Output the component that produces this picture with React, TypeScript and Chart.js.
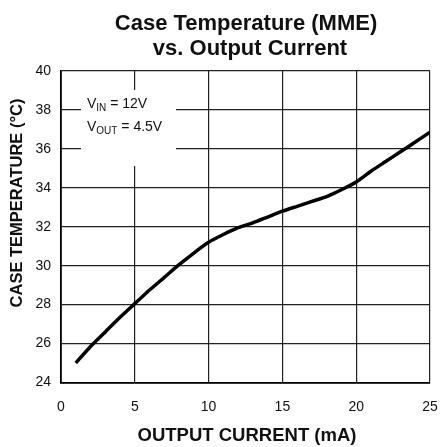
import React, { useEffect, useRef } from "react";
import { Chart, registerables } from "chart.js";

Chart.register(...registerables);

const outputCurrent = [1, 2, 3, 4, 5, 6, 7, 8, 9, 10, 11, 12, 13, 14, 15, 16, 17, 18, 19, 20, 21, 22, 23, 24, 25];
const caseTemp = [25.0, 25.85, 26.6, 27.35, 28.05, 28.75, 29.4, 30.05, 30.65, 31.2, 31.6, 31.95, 32.2, 32.5, 32.8, 33.05, 33.3, 33.55, 33.9, 34.3, 34.85, 35.35, 35.85, 36.35, 36.86];
const titleLines = ["Case Temperature (MME)", "vs. Output Current"];
const xTitle = "OUTPUT CURRENT (mA)";
const yTitle = "CASE TEMPERATURE (°C)";
const noteLines = [
  { main: "V", sub: "IN", rest: " = 12V" },
  { main: "V", sub: "OUT", rest: " = 4.5V" },
];

const FONT = "'Liberation Sans', Arial, Helvetica, sans-serif";

const textPlugin = {
  id: "textPlugin",
  beforeDatasetsDraw(chart: any) {
    const ctx = chart.ctx;
    const a = chart.chartArea;
    ctx.save();
    ctx.fillStyle = "#ffffff";
    ctx.fillRect(a.left + 20, a.top + 19, 95, 76);
    ctx.fillStyle = "#111";
    ctx.textBaseline = "alphabetic";
    const baselines = [a.top + 37, a.top + 60];
    noteLines.forEach((ln, i) => {
      let x = a.left + 26;
      const y = baselines[i];
      ctx.font = `14px ${FONT}`;
      ctx.textAlign = "left";
      ctx.fillText(ln.main, x, y);
      x += ctx.measureText(ln.main).width;
      ctx.font = `10px ${FONT}`;
      ctx.fillText(ln.sub, x, y + 3);
      x += ctx.measureText(ln.sub).width;
      ctx.font = `14px ${FONT}`;
      ctx.fillText(ln.rest, x, y);
    });
    ctx.restore();
  },
  afterDraw(chart: any) {
    const ctx = chart.ctx;
    ctx.save();
    ctx.fillStyle = "#111";
    ctx.textAlign = "center";
    ctx.textBaseline = "alphabetic";
    ctx.font = `bold 22px ${FONT}`;
    ctx.fillText(titleLines[0], 246, 29.5);
    ctx.fillText(titleLines[1], 250, 55);
    ctx.font = `bold 18.5px ${FONT}`;
    ctx.textBaseline = "middle";
    ctx.fillText(xTitle, 247, 436);
    ctx.translate(17, 203);
    ctx.rotate(-Math.PI / 2);
    ctx.font = `bold 16.5px ${FONT}`;
    ctx.fillText(yTitle, 0, 0);
    ctx.restore();
  },
};

export default function App() {
  const ref = useRef<HTMLCanvasElement | null>(null);
  useEffect(() => {
    if (!ref.current) return;
    const chart = new Chart(ref.current, {
      type: "line",
      data: {
        datasets: [
          {
            data: outputCurrent.map((x, i) => ({ x, y: caseTemp[i] })),
            borderColor: "#000",
            borderWidth: 3.5,
            pointRadius: 0,
            tension: 0.2,
            fill: false,
          },
        ],
      },
      options: {
        animation: false,
        responsive: false,
        layout: { padding: { top: 71, right: 11, left: 0, bottom: 0 } },
        plugins: { legend: { display: false }, title: { display: false }, tooltip: { enabled: false } },
        scales: {
          x: {
            type: "linear",
            min: 0,
            max: 25,
            ticks: { stepSize: 5, padding: 16, color: "#111", font: { size: 14, family: FONT } },
            grid: { color: "#222", lineWidth: 1.2, drawTicks: false },
            border: { color: "#000", width: 1.8 },
            afterFit: (s: any) => { s.height = 64.5; s.paddingRight = 0; s.paddingLeft = 0; },
          },
          y: {
            min: 24,
            max: 40,
            ticks: { stepSize: 2, padding: 10, color: "#111", font: { size: 14, family: FONT } },
            grid: { color: "#222", lineWidth: 1.2, drawTicks: false },
            border: { color: "#000", width: 1.8 },
            afterFit: (s: any) => { s.width = 61; s.paddingTop = 0; s.paddingBottom = 0; },
          },
        },
      },
      plugins: [textPlugin],
    });
    return () => chart.destroy();
  }, []);
  return (
    <div style={{ position: "absolute", left: 0, top: 0, width: 441, height: 447, background: "#fff" }}>
      <canvas ref={ref} width={441} height={447} />
    </div>
  );
}
